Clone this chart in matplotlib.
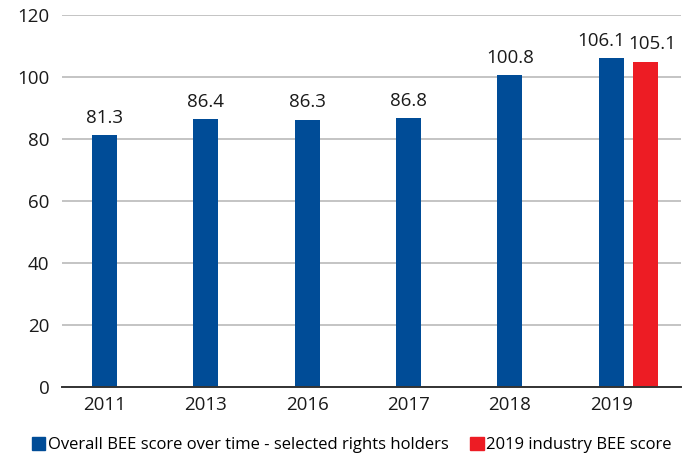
import matplotlib.pyplot as plt
import numpy as np
from matplotlib.patches import Patch

years = ["2011", "2013", "2016", "2017", "2018", "2019"]
overall = [81.3, 86.4, 86.3, 86.8, 100.8, 106.1]
industry_2019 = [105.1]
yticks = [0, 20, 40, 60, 80, 100, 120]

blue = "#004c97"
red = "#ed1c24"

plt.rcParams["font.family"] = ["Open Sans", "DejaVu Sans"]

fig = plt.figure(figsize=(6.86, 4.53), dpi=100)
ax = fig.add_axes([0.0904, 0.1464, 0.9023, 0.8194])

x = np.arange(len(years))
w = 0.247
red_x = x[-1] + 0.335
ax.bar(x, overall, width=w, color=blue, zorder=3)
ax.bar([red_x], industry_2019, width=w, color=red, zorder=3)

# value labels; the two 2019 labels are nudged apart like in the original
for i, v in enumerate(overall):
    dx = -7 if i == len(overall) - 1 else 0
    ax.annotate(f"{v:.1f}", (x[i], v), xytext=(dx, 6), textcoords="offset points",
                ha="center", va="bottom", fontsize=13.5, color="#1a1a1a")
ax.annotate(f"{industry_2019[0]:.1f}", (red_x, industry_2019[0]), xytext=(5, 6),
            textcoords="offset points", ha="center", va="bottom", fontsize=13.5, color="#1a1a1a")

ax.set_ylim(0, 120)
ax.set_xlim(-0.42, 5.69)
ax.set_yticks(yticks)
ax.set_xticks(x)
ax.set_xticklabels(years)
ax.tick_params(axis="both", length=0, labelsize=13.5, colors="#1a1a1a")
ax.tick_params(axis="y", pad=9)
ax.tick_params(axis="x", pad=7)
ax.yaxis.grid(True, color="#b4b4b4", linewidth=1.1, zorder=0)
for s in ["top", "right", "left"]:
    ax.spines[s].set_visible(False)
ax.spines["bottom"].set_color("#333333")
ax.spines["bottom"].set_linewidth(1.4)
ax.spines["bottom"].set_zorder(4)

handles = [Patch(color=blue), Patch(color=red)]
fig.legend(handles, ["Overall BEE score over time - selected rights holders", "2019 industry BEE score"],
           loc="center", bbox_to_anchor=(0.513, 0.018), ncol=2, frameon=False, fontsize=12,
           handlelength=0.8, handleheight=0.9, handletextpad=0.15, columnspacing=1.3,
           borderaxespad=0, borderpad=0)

fig.savefig("out.png", dpi=100)
